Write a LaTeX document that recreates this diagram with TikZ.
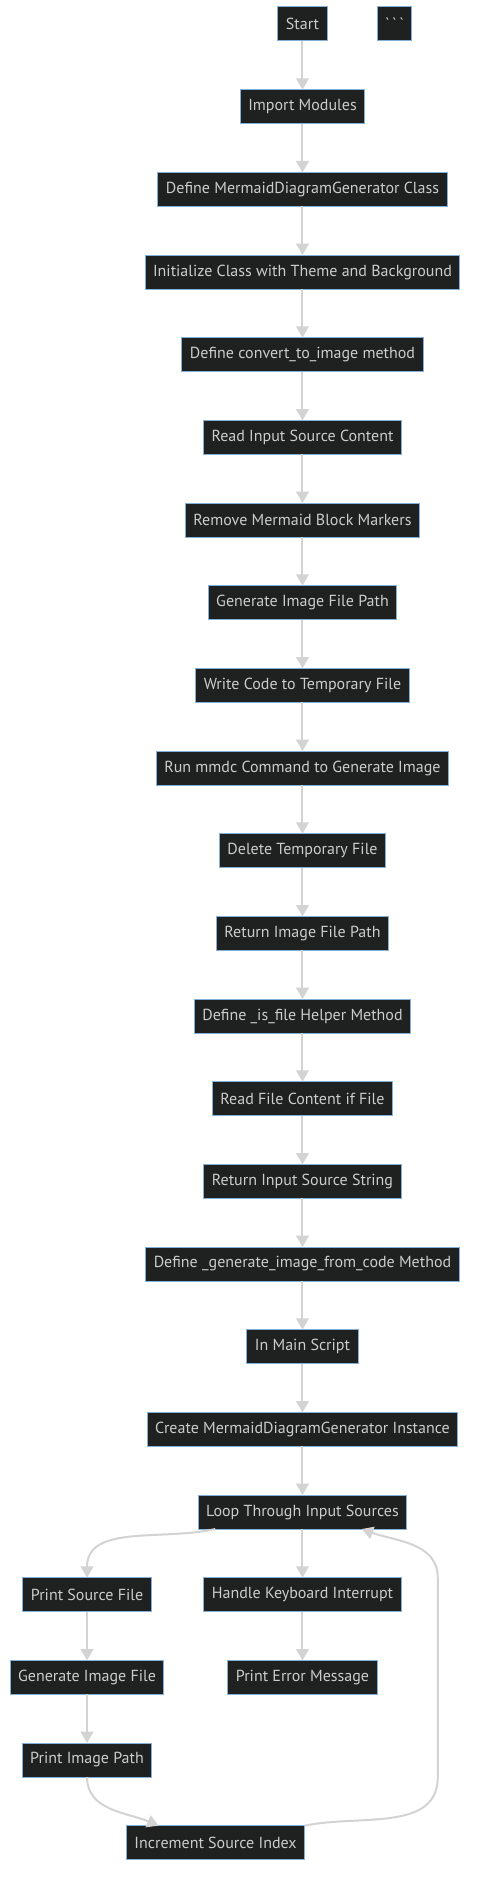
\documentclass[tikz,border=0pt]{standalone}
\usepackage{fontspec}
\setmainfont{PT Sans}
\newfontfamily\tickfont{PT Sans}[Ligatures=TeXOff]
\usepackage{xcolor}
\usepackage{tikz}
\usetikzlibrary{arrows.meta, positioning, calc}

\definecolor{boxfill}{HTML}{1F2020}
\definecolor{boxline}{HTML}{81B1DB}
\definecolor{boxtext}{HTML}{CCCCCC}
\definecolor{edgeline}{HTML}{D3D3D3}

\begin{document}
\begin{tikzpicture}[node distance=36.5pt, >={Triangle[length=8.5pt,width=9.5pt]}, font=\fontsize{12pt}{14pt}\selectfont]
    \tikzstyle{box} = [rectangle, draw=boxline, line width=0.75pt, outer sep=0pt, fill=boxfill, text=boxtext, minimum height=25.5pt, inner xsep=6pt]
    \tikzstyle{edge} = [draw=edgeline, line width=1.5pt]

    \useasboundingbox (-226.875pt,18pt) rectangle (134.625pt,-1405.5pt);

    \node [box] (start) at (0,0) {Start};
    \node [box, right=37.5pt of start] (ticks) {\tickfont\char96\,\char96\,\char96};
    \node [box, below=of start] (imports) {Import Modules};
    \node [box, below=of imports] (defcls) {Define MermaidDiagramGenerator Class};
    \node [box, below=of defcls] (initcls) {Initialize Class with Theme and Background};
    \node [box, below=of initcls] (defconv) {Define convert\_to\_image method};
    \node [box, below=of defconv] (readsrc) {Read Input Source Content};
    \node [box, below=of readsrc] (rmmark) {Remove Mermaid Block Markers};
    \node [box, below=of rmmark] (genpath) {Generate Image File Path};
    \node [box, below=of genpath] (writetmp) {Write Code to Temporary File};
    \node [box, below=of writetmp] (runmmdc) {Run mmdc Command to Generate Image};
    \node [box, below=of runmmdc] (deltmp) {Delete Temporary File};
    \node [box, below=of deltmp] (retpath) {Return Image File Path};
    \node [box, below=of retpath] (defisfile) {Define \_is\_file Helper Method};
    \node [box, below=of defisfile] (readfile) {Read File Content if File};
    \node [box, below=of readfile] (retsrc) {Return Input Source String};
    \node [box, below=of retsrc] (defgen) {Define \_generate\_image\_from\_code Method};
    \node [box, below=of defgen] (mainscr) {In Main Script};
    \node [box, below=of mainscr] (mkinst) {Create MermaidDiagramGenerator Instance};
    \node [box, below=of mkinst] (loop) {Loop Through Input Sources};
    \node [box, below=of loop, xshift=-161.6pt] (psrc) {Print Source File};
    \node [box, below=of loop] (handle) {Handle Keyboard Interrupt};
    \node [box, below=of psrc] (gimg) {Generate Image File};
    \node [box, below=of handle] (perr) {Print Error Message};
    \node [box, below=of gimg] (pimg) {Print Image Path};
    \node [box, below=of pimg, xshift=96.4pt] (incr) {Increment Source Index};

    \coordinate (rside) at ([xshift=23.25pt]loop.east);

    % Connections
    \draw[edge, ->] (start.south) -- (imports.north);
    \draw[edge, ->] (imports.south) -- (defcls.north);
    \draw[edge, ->] (defcls.south) -- (initcls.north);
    \draw[edge, ->] (initcls.south) -- (defconv.north);
    \draw[edge, ->] (defconv.south) -- (readsrc.north);
    \draw[edge, ->] (readsrc.south) -- (rmmark.north);
    \draw[edge, ->] (rmmark.south) -- (genpath.north);
    \draw[edge, ->] (genpath.south) -- (writetmp.north);
    \draw[edge, ->] (writetmp.south) -- (runmmdc.north);
    \draw[edge, ->] (runmmdc.south) -- (deltmp.north);
    \draw[edge, ->] (deltmp.south) -- (retpath.north);
    \draw[edge, ->] (retpath.south) -- (defisfile.north);
    \draw[edge, ->] (defisfile.south) -- (readfile.north);
    \draw[edge, ->] (readfile.south) -- (retsrc.north);
    \draw[edge, ->] (retsrc.south) -- (defgen.north);
    \draw[edge, ->] (defgen.south) -- (mainscr.north);
    \draw[edge, ->] (mainscr.south) -- (mkinst.north);
    \draw[edge, ->] (mkinst.south) -- (loop.north);
    \draw[edge, ->] ([xshift=12.75pt]loop.south west) to[out=-167, in=90] (psrc.north);
    \draw[edge, ->] (loop.south) -- (handle.north);
    \draw[edge, ->] (psrc.south) -- (gimg.north);
    \draw[edge, ->] (handle.south) -- (perr.north);
    \draw[edge, ->] (gimg.south) -- (pimg.north);
    \draw[edge, ->] (pimg.south) to[out=-90, in=157] ([xshift=24pt]incr.north west);
    \draw[edge, ->] (incr.north east) to[out=12, in=-90] (rside |- pimg.south)
        -- (rside |- psrc.north) to[out=90, in=-20] ([xshift=-33.75pt]loop.south east);
\end{tikzpicture}
\end{document}
